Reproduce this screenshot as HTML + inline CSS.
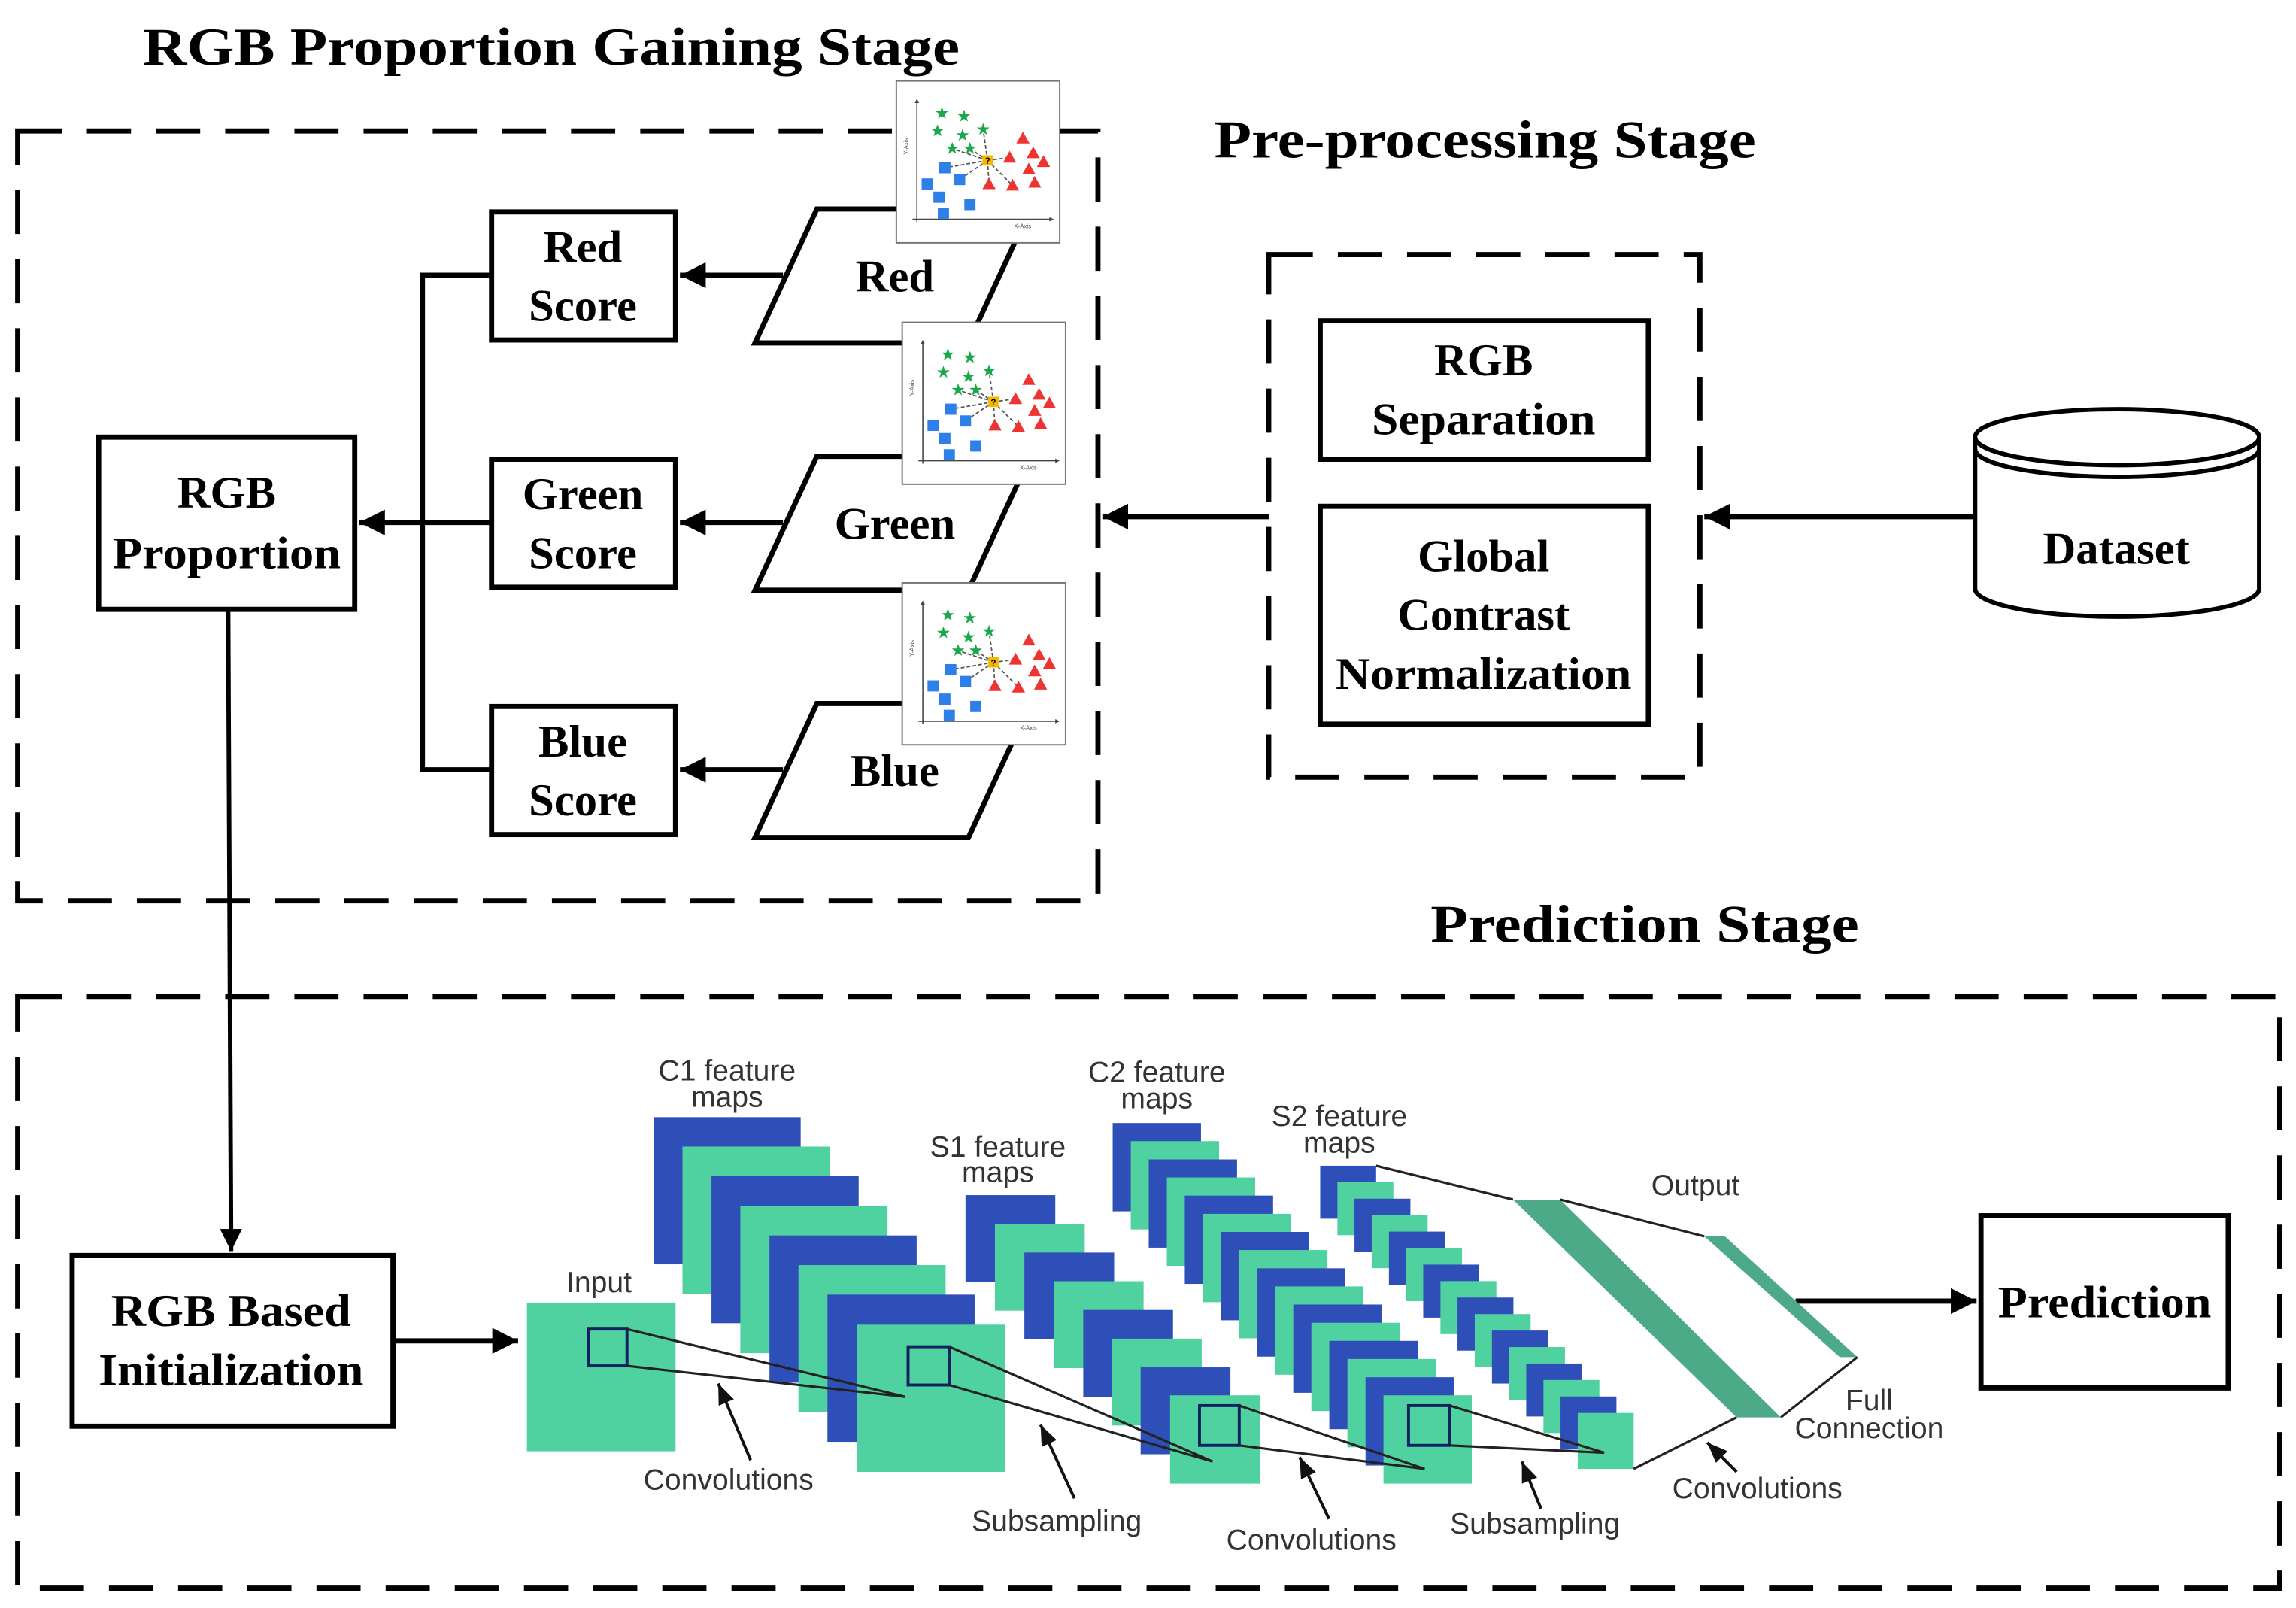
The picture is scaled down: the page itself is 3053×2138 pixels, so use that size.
<!DOCTYPE html>
<html><head><meta charset="utf-8"><style>html,body{margin:0;padding:0;background:#fff}svg{display:block}</style></head>
<body>
<svg width="3053" height="2138" viewBox="0 0 1560 1092.5" xmlns="http://www.w3.org/2000/svg">
<defs>
<marker id="ah" viewBox="0 0 10 10" refX="10" refY="5" markerWidth="5" markerHeight="5" markerUnits="strokeWidth" orient="auto"><path d="M0,0 L10,5 L0,10 z" fill="#000"/></marker>
<marker id="ah2" viewBox="0 0 10 10" refX="10" refY="5" markerWidth="7" markerHeight="7" markerUnits="strokeWidth" orient="auto"><path d="M0,1 L10,5 L0,9 z" fill="#111"/></marker>
<path id="st" d="M0,-4.5 L1.1,-1.4 4.3,-1.4 1.7,0.5 2.7,3.6 0,1.8 -2.7,3.6 -1.7,0.5 -4.3,-1.4 -1.1,-1.4z" fill="#1aa84a"/>
<path id="tr" d="M0,-4.5 L4.5,3.5 -4.5,3.5z" fill="#ee3333"/>
<rect id="sq" x="-3.8" y="-3.8" width="7.6" height="7.6" fill="#2f7fe8"/>
<g id="plot">
<rect x="0" y="0" width="111" height="110" fill="#fff" stroke="#777" stroke-width="1"/>
<g stroke="#555" stroke-width="0.9" stroke-dasharray="2.5,1.5" fill="none">
<path d="M62,54 L38,46 M62,54 L50,46 M62,54 L59,33 M62,54 L33,59 M62,54 L43,67 M62,54 L63,70 M62,54 L77,52 M62,54 L79,71"/>
</g>
<path d="M14,96 L14,13 M11,94 L106,94" stroke="#444" stroke-width="0.8" fill="none"/>
<path d="M14,12 l-1.5,3 h3z M107,94 l-3,-1.5 v3z" fill="#444"/>
<text x="8" y="50" font-family="Liberation Sans, sans-serif" font-size="4" fill="#555" transform="rotate(-90 8 50)">Y-Axis</text>
<text x="80" y="100" font-family="Liberation Sans, sans-serif" font-size="4" fill="#555">X-Axis</text>
<use href="#st" x="31" y="22"/><use href="#st" x="46" y="24"/><use href="#st" x="28" y="34"/><use href="#st" x="45" y="37"/><use href="#st" x="59" y="33"/><use href="#st" x="38" y="46"/><use href="#st" x="50" y="46"/>
<use href="#sq" x="33" y="59"/><use href="#sq" x="43" y="67"/><use href="#sq" x="21" y="70"/><use href="#sq" x="29" y="79"/><use href="#sq" x="50" y="84"/><use href="#sq" x="32" y="90"/>
<use href="#tr" x="86" y="39"/><use href="#tr" x="93" y="49"/><use href="#tr" x="100" y="55"/><use href="#tr" x="77" y="52"/><use href="#tr" x="90" y="60"/><use href="#tr" x="94" y="69"/><use href="#tr" x="63" y="70"/><use href="#tr" x="79" y="71"/>
<rect x="58.5" y="50.5" width="7" height="7" fill="#f5b800"/>
<text x="62" y="56.5" font-family="Liberation Sans, sans-serif" font-size="6" font-weight="bold" text-anchor="middle">?</text>
</g>
</defs>

<g font-family="Liberation Serif, serif" font-weight="bold" fill="#000">
<text x="97" y="44" font-size="36" textLength="555" lengthAdjust="spacingAndGlyphs">RGB Proportion Gaining Stage</text>
<text x="825" y="107" font-size="36" textLength="368" lengthAdjust="spacingAndGlyphs">Pre-processing Stage</text>
<text x="972" y="640" font-size="36" textLength="291" lengthAdjust="spacingAndGlyphs">Prediction Stage</text>
</g>

<g fill="none" stroke="#000" stroke-width="3.5" stroke-dasharray="30,17">
<rect x="12" y="89" width="734" height="523"/>
<rect x="862" y="173" width="293" height="355"/>
<rect x="12" y="677" width="1537" height="402"/>
</g>

<g fill="#fff" stroke="#000" stroke-width="3.5">
<rect x="897" y="218" width="223" height="94"/>
<rect x="897" y="344" width="223" height="148"/>
<rect x="334" y="144" width="125" height="87"/>
<rect x="334" y="312" width="125" height="87"/>
<rect x="334" y="480" width="125" height="87"/>
<rect x="67" y="297" width="174" height="117"/>
<rect x="49" y="853" width="218" height="116"/>
<rect x="1346" y="826" width="168" height="117"/>
<path d="M513,233 L555,142 L700,142 L658,233 Z"/>
<path d="M513,401 L555,310 L700,310 L658,401 Z"/>
<path d="M513,569 L555,478 L700,478 L658,569 Z"/>
</g>
<g fill="#fff" stroke="#000" stroke-width="3">
<path d="M1342,297 L1342,400 A96.5,19 0 0 0 1535,400 L1535,297"/>
<ellipse cx="1438.5" cy="297" rx="96.5" ry="19"/>
<path d="M1342,305 A96.5,19 0 0 0 1535,305" fill="none"/>
</g>

<use href="#plot" x="609" y="55"/>
<use href="#plot" x="613" y="219"/>
<use href="#plot" x="613" y="396"/>

<g fill="none" stroke="#000" stroke-width="3.5">
<path d="M1342,351 L1158,351" marker-end="url(#ah)"/>
<path d="M862,351 L749,351" marker-end="url(#ah)"/>
<path d="M532,187 L462,187" marker-end="url(#ah)"/>
<path d="M532,355 L462,355" marker-end="url(#ah)"/>
<path d="M532,523 L462,523" marker-end="url(#ah)"/>
<path d="M334,187 L287,187 L287,523 L334,523"/>
<path d="M334,355 L244,355" marker-end="url(#ah)"/>
<path d="M155,414 L157,850" stroke-width="3" marker-end="url(#ah)"/>
<path d="M267,911 L352,911" marker-end="url(#ah)"/>
<path d="M1220,884 L1343,884" marker-end="url(#ah)"/>
</g>

<g font-family="Liberation Serif, serif" font-weight="bold" font-size="31" text-anchor="middle" fill="#000">
<text x="1008" y="255">RGB</text>
<text x="1008" y="295" textLength="152" lengthAdjust="spacingAndGlyphs">Separation</text>
<text x="1008" y="388">Global</text>
<text x="1008" y="428">Contrast</text>
<text x="1008" y="468" textLength="201" lengthAdjust="spacingAndGlyphs">Normalization</text>
<text x="1438" y="383">Dataset</text>
<text x="396" y="178">Red</text>
<text x="396" y="218">Score</text>
<text x="396" y="346">Green</text>
<text x="396" y="386">Score</text>
<text x="396" y="514">Blue</text>
<text x="396" y="554">Score</text>
<text x="154" y="345">RGB</text>
<text x="154" y="386" textLength="155" lengthAdjust="spacingAndGlyphs">Proportion</text>
<text x="608" y="198">Red</text>
<text x="608" y="366">Green</text>
<text x="608" y="534">Blue</text>
<text x="157" y="901" textLength="163" lengthAdjust="spacingAndGlyphs">RGB Based</text>
<text x="157" y="941" textLength="180" lengthAdjust="spacingAndGlyphs">Initialization</text>
<text x="1430" y="895" textLength="145" lengthAdjust="spacingAndGlyphs">Prediction</text>
</g>

<!-- CNN -->
<g>
<rect x="358" y="885" width="101" height="101" fill="#4fd1a0"/>
<!-- C1 -->
<rect x="444" y="759" width="100" height="100" fill="#2f4fb8"/>
<rect x="463.7" y="779" width="100" height="100" fill="#4fd1a0"/>
<rect x="483.4" y="799" width="100" height="100" fill="#2f4fb8"/>
<rect x="503" y="819.3" width="100" height="100" fill="#4fd1a0"/>
<rect x="522.8" y="839.4" width="100" height="100" fill="#2f4fb8"/>
<rect x="542.5" y="859.5" width="100" height="100" fill="#4fd1a0"/>
<rect x="562.2" y="879.6" width="100" height="100" fill="#2f4fb8"/>
<rect x="582" y="900" width="101" height="100" fill="#4fd1a0"/>
<!-- S1 -->
<rect x="656" y="812" width="61" height="59" fill="#2f4fb8"/>
<rect x="676" y="831.5" width="61" height="59" fill="#4fd1a0"/>
<rect x="696" y="851" width="61" height="59" fill="#2f4fb8"/>
<rect x="716" y="870.5" width="61" height="59" fill="#4fd1a0"/>
<rect x="736" y="890" width="61" height="59" fill="#2f4fb8"/>
<rect x="755.5" y="909.5" width="61" height="59" fill="#4fd1a0"/>
<rect x="775" y="929" width="61" height="59" fill="#2f4fb8"/>
<rect x="795" y="948" width="61" height="60" fill="#4fd1a0"/>
<!-- C2 -->
<g>
<rect x="756" y="763" width="60" height="60" fill="#2f4fb8"/>
<rect x="768.3" y="775.3" width="60" height="60" fill="#4fd1a0"/>
<rect x="780.5" y="787.7" width="60" height="60" fill="#2f4fb8"/>
<rect x="792.8" y="800" width="60" height="60" fill="#4fd1a0"/>
<rect x="805" y="812.3" width="60" height="60" fill="#2f4fb8"/>
<rect x="817.3" y="824.7" width="60" height="60" fill="#4fd1a0"/>
<rect x="829.6" y="837" width="60" height="60" fill="#2f4fb8"/>
<rect x="841.9" y="849.3" width="60" height="60" fill="#4fd1a0"/>
<rect x="854.1" y="861.7" width="60" height="60" fill="#2f4fb8"/>
<rect x="866.4" y="874" width="60" height="60" fill="#4fd1a0"/>
<rect x="878.7" y="886.3" width="60" height="60" fill="#2f4fb8"/>
<rect x="891" y="898.7" width="60" height="60" fill="#4fd1a0"/>
<rect x="903.2" y="911" width="60" height="60" fill="#2f4fb8"/>
<rect x="915.5" y="923.3" width="60" height="60" fill="#4fd1a0"/>
<rect x="927.8" y="935.7" width="60" height="60" fill="#2f4fb8"/>
<rect x="940" y="948" width="60" height="60" fill="#4fd1a0"/>
</g>
<!-- S2 -->
<g>
<rect x="897" y="792" width="38" height="36" fill="#2f4fb8"/>
<rect x="908.7" y="803.2" width="38" height="36" fill="#4fd1a0"/>
<rect x="920.3" y="814.4" width="38" height="36" fill="#2f4fb8"/>
<rect x="932" y="825.6" width="38" height="36" fill="#4fd1a0"/>
<rect x="943.7" y="836.8" width="38" height="36" fill="#2f4fb8"/>
<rect x="955.3" y="848" width="38" height="36" fill="#4fd1a0"/>
<rect x="967" y="859.2" width="38" height="36" fill="#2f4fb8"/>
<rect x="978.7" y="870.4" width="38" height="36" fill="#4fd1a0"/>
<rect x="990.3" y="881.6" width="38" height="36" fill="#2f4fb8"/>
<rect x="1002" y="892.8" width="38" height="36" fill="#4fd1a0"/>
<rect x="1013.7" y="904" width="38" height="36" fill="#2f4fb8"/>
<rect x="1025.3" y="915.2" width="38" height="36" fill="#4fd1a0"/>
<rect x="1037" y="926.4" width="38" height="36" fill="#2f4fb8"/>
<rect x="1048.7" y="937.6" width="38" height="36" fill="#4fd1a0"/>
<rect x="1060.3" y="948.8" width="38" height="36" fill="#2f4fb8"/>
<rect x="1072" y="960" width="38" height="38" fill="#4fd1a0"/>
</g>
<!-- output bands -->
<path d="M1028,815 L1060,815 L1210,963 L1180,963 Z" fill="#4caa88"/>
<path d="M1158,840 L1172,840 L1262,922 L1250,922 Z" fill="#4caa88"/>
<g stroke="#222" stroke-width="1.6" fill="none">
<path d="M935,792 L1028,815 M1060,815 L1158,840 M1110,998 L1180,963 M1210,963 L1262,922"/>
<rect x="400" y="903" width="26" height="25" stroke="#102060" stroke-width="2"/>
<path d="M426,903 L615,949 M426,928 L615,949"/>
<rect x="617" y="915" width="28" height="26" stroke="#102060" stroke-width="2"/>
<path d="M645,915 L824,993 M645,941 L824,993"/>
<rect x="815" y="955" width="27" height="27" stroke="#102060" stroke-width="2"/>
<path d="M842,955 L968,998 M842,982 L968,998"/>
<rect x="957" y="955" width="28" height="27" stroke="#102060" stroke-width="2"/>
<path d="M985,955 L1090,987 M985,982 L1090,987"/>
</g>
<g stroke="#111" stroke-width="2" fill="none">
<path d="M510,992 L488,940" marker-end="url(#ah2)"/>
<path d="M730,1018 L707,968" marker-end="url(#ah2)"/>
<path d="M903,1032 L883,990" marker-end="url(#ah2)"/>
<path d="M1047,1025 L1034,993" marker-end="url(#ah2)"/>
<path d="M1180,1000 L1160,980" marker-end="url(#ah2)"/>
</g>
<g font-family="Liberation Sans, sans-serif" font-size="20" fill="#333" text-anchor="middle">
<text x="494" y="734">C1 feature</text><text x="494" y="752">maps</text>
<text x="678" y="786">S1 feature</text><text x="678" y="803">maps</text>
<text x="786" y="735">C2 feature</text><text x="786" y="753">maps</text>
<text x="910" y="765">S2 feature</text><text x="910" y="783">maps</text>
<text x="407" y="878">Input</text>
<text x="1152" y="812">Output</text>
<text x="1270" y="958">Full</text><text x="1270" y="977">Connection</text>
<text x="495" y="1012">Convolutions</text>
<text x="718" y="1040">Subsampling</text>
<text x="891" y="1053">Convolutions</text>
<text x="1043" y="1042">Subsampling</text>
<text x="1194" y="1018">Convolutions</text>
</g>
</g>
</svg>
</body></html>
